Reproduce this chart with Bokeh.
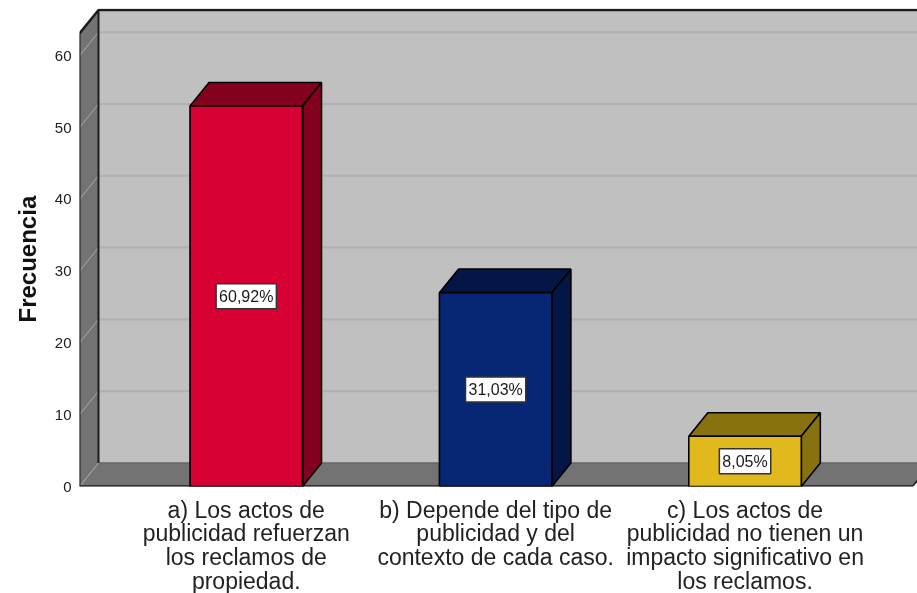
from bokeh.plotting import figure
from bokeh.models import Range1d, FixedTicker, Label, Title
from bokeh.embed import file_html
from bokeh.resources import INLINE

categories = ["a) Los actos de\npublicidad refuerzan\nlos reclamos de\npropiedad.",
              "b) Depende del tipo de\npublicidad y del\ncontexto de cada caso.",
              "c) Los actos de\npublicidad no tienen un\nimpacto significativo en\nlos reclamos."]
values = [53, 27, 7]
percent_labels = ["60,92%", "31,03%", "8,05%"]
front_colors = ["#D60032", "#072674", "#E2B91C"]
dark_colors = ["#83001E", "#041645", "#87720F"]
y_ticks = [0, 10, 20, 30, 40, 50, 60]

# layout constants
W, H = 917, 597
L, R, T, B = 79, 0, 8, 111
PX_X = 249.4
PX_Y = 7.18
x0_px = 245.75
x_start = (L - x0_px) / PX_X
x_end = (W - x0_px) / PX_X
y_end = (H - B - T) / PX_Y
DX = 19 / PX_X
DY = 23.5 / PX_Y
BW = 112.5 / PX_X
WALL_TOP = 63.1
FLOOR_R = (912 - x0_px) / PX_X

xs = list(range(len(categories)))

p = figure(width=W, height=H, output_backend="svg", toolbar_location=None,
           x_range=Range1d(x_start, x_end), y_range=Range1d(0, y_end),
           min_border_left=L, min_border_right=R, min_border_top=T, min_border_bottom=B,
           outline_line_color=None, background_fill_color="white",
           styles={"position": "fixed", "left": "0px", "top": "0px"})
p.grid.visible = False

EDGE = "#1c1c1c"
# back wall
p.patch([x_start + DX, FLOOR_R + DX, FLOOR_R + DX, x_start + DX],
        [DY, DY, WALL_TOP + DY, WALL_TOP + DY],
        fill_color="#C0C0C0", line_color=None)
# back gridlines
for t in y_ticks[1:]:
    p.line([x_start + DX, FLOOR_R + DX], [t + DY, t + DY], line_color="#B0B0B0", line_width=2)
# floor
p.patch([x_start, FLOOR_R, FLOOR_R + DX, x_start + DX], [0, 0, DY, DY],
        fill_color="#737373", line_color=None)
p.line([x_start + DX, FLOOR_R + DX], [DY, DY], line_color="#666666", line_width=1.5)
p.line([FLOOR_R, FLOOR_R + DX], [0, DY], line_color=EDGE, line_width=1.5)
# left wall
p.patch([x_start, x_start + DX, x_start + DX, x_start],
        [0, DY, WALL_TOP + DY, WALL_TOP],
        fill_color="#737373", line_color=None)
for t in y_ticks:
    p.line([x_start, x_start + DX], [t, t + DY], line_color="#ABABAB", line_width=1)
# frame edges
p.line([x_start + DX, x_start + DX], [DY, WALL_TOP + DY], line_color=EDGE, line_width=2)
p.line([x_start, x_start], [0, WALL_TOP], line_color=EDGE, line_width=2)
p.line([x_start, x_start + DX, FLOOR_R + DX], [WALL_TOP, WALL_TOP + DY, WALL_TOP + DY],
       line_color=EDGE, line_width=2.5)
p.line([x_start, FLOOR_R], [0, 0], line_color=EDGE, line_width=2.5)

# bars
lefts = [x - BW / 2 for x in xs]
rights = [x + BW / 2 for x in xs]
top_x = [[l, r, r + DX, l + DX] for l, r in zip(lefts, rights)]
top_y = [[v, v, v + DY, v + DY] for v in values]
side_x = [[r, r + DX, r + DX, r] for r in rights]
side_y = [[0, DY, v + DY, v] for v in values]
p.patches(top_x, top_y, fill_color=dark_colors, line_color="#000000", line_width=1.6)
p.patches(side_x, side_y, fill_color=dark_colors, line_color="#000000", line_width=1.6)
p.quad(left=lefts, right=rights, bottom=[0] * 3, top=values,
       fill_color=front_colors, line_color="#000000", line_width=1.6)

# percent labels
for x, v, t in zip(xs, values, percent_labels):
    p.add_layout(Label(x=x, y=v / 2, text=t, text_align="center", text_baseline="middle",
                       text_font="Liberation Sans", text_font_size="16px", text_color="#1a1a1a",
                       background_fill_color="white", border_line_color="#333333",
                       border_line_width=1.5, padding=(3, 4)))

xa = p.xaxis[0]
xa.ticker = FixedTicker(ticks=xs)
xa.major_label_overrides = {i: c for i, c in enumerate(categories)}
xa.major_label_text_font = "Liberation Sans"
xa.major_label_text_font_size = "23px"
xa.major_label_text_line_height = 0.92
xa.major_label_text_color = "#222222"
xa.major_label_standoff = 10
xa.major_tick_line_color = None
xa.minor_tick_line_color = None
xa.axis_line_color = None
xa.major_tick_out = 0

ya = p.yaxis[0]
ya.ticker = FixedTicker(ticks=y_ticks)
ya.major_label_text_font = "Liberation Sans"
ya.major_label_text_font_size = "15px"
ya.major_label_text_color = "#222222"
ya.major_label_standoff = 8
ya.major_tick_line_color = None
ya.minor_tick_line_color = None
ya.axis_line_color = None
ya.major_tick_out = 0

p.add_layout(Title(text="Frecuencia", align="left", offset=164, standoff=22,
                   text_font="Liberation Sans", text_font_style="bold", text_font_size="24px",
                   text_color="#111111"), "left")

open("out.html", "w").write(file_html(p, INLINE))
